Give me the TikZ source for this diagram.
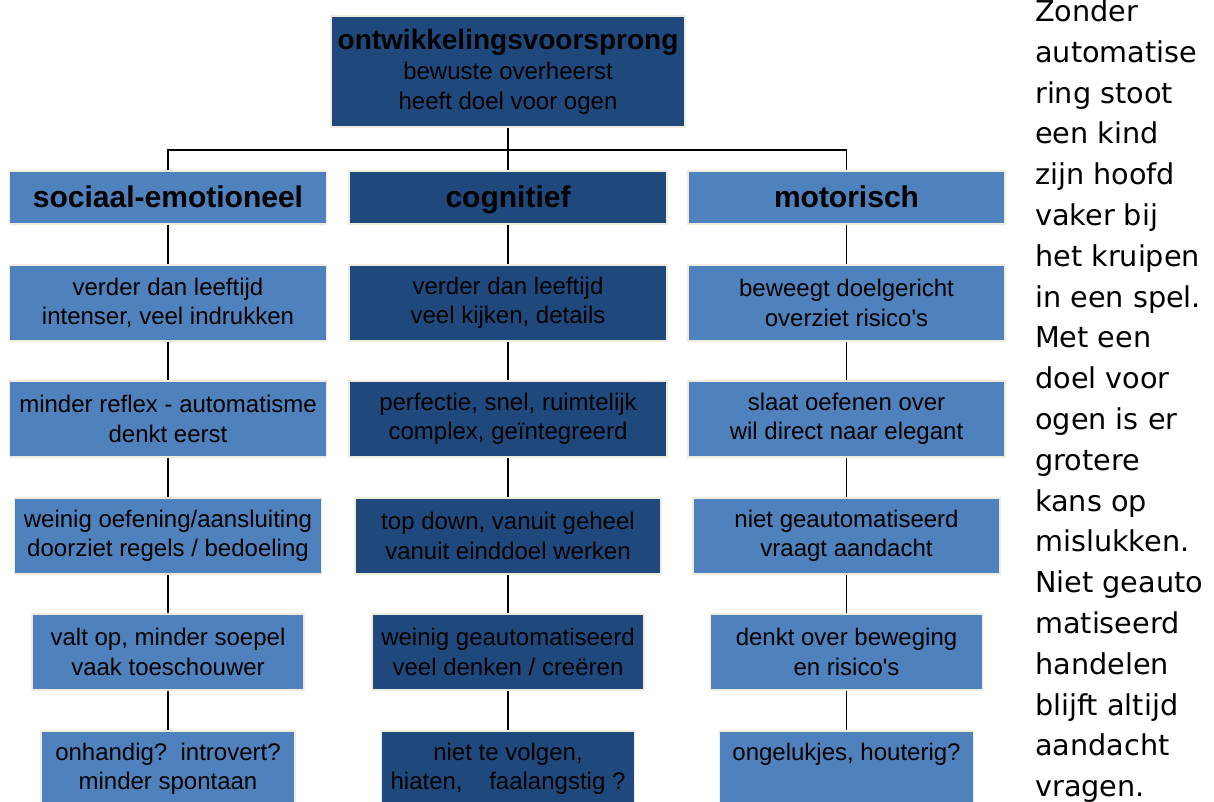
\documentclass[tikz,border=0pt]{standalone}
\usepackage{fontspec}
\setmainfont{Liberation Sans}
\newfontfamily\verd{DejaVu Sans}
\definecolor{lightblue}{HTML}{4F81BD}
\definecolor{darkblue}{HTML}{1F497D}
\definecolor{edgecol}{HTML}{EEECE1}
\begin{document}
\begin{tikzpicture}[x=1pt,y=-1pt,
  box/.style={draw=edgecol, line width=1.5pt, rectangle, inner sep=0pt, align=center,
    font=\fontsize{24}{29.5}\selectfont, text=black},
  lightbox/.style={box, fill=lightblue},
  darkbox/.style={box, fill=darkblue},
  headtext/.style={font=\fontsize{30}{34}\selectfont\bfseries, text height=21pt, text depth=0pt},
  connector/.style={draw=black, line width=1.2pt},
  sidetext/.style={anchor=north west, inner sep=0pt, align=left,
    font=\verd\fontsize{28.7}{40.8}\selectfont, text=black}]
\clip (0,0) rectangle (1214,802);
\fill[white] (0,0) rectangle (1214,802);

% top
\node[darkbox, minimum width=354pt, minimum height=111pt, font=\fontsize{24}{30}\selectfont] (top) at (508,71.5)
  {{\fontsize{28}{30}\selectfont\bfseries ontwikkelingsvoorsprong}\\ bewuste overheerst\\ heeft doel voor ogen};

% row 1
\node[lightbox, headtext, minimum width=317pt, minimum height=53pt] (s1) at (168,197.5) {sociaal-emotioneel};
\node[darkbox, headtext, minimum width=318pt, minimum height=53pt] (c1) at (508,197.5) {cognitief};
\node[lightbox, headtext, minimum width=317pt, minimum height=53pt] (m1) at (846.5,197.5) {motorisch};

% row 2
\node[lightbox, minimum width=317pt, minimum height=76pt] (s2) at (168,303) {verder dan leeftijd\\ intenser, veel indrukken};
\node[darkbox, minimum width=318pt, minimum height=76pt] (c2) at (508,303) {verder dan leeftijd\\ veel kijken, details};
\node[lightbox, minimum width=317pt, minimum height=76pt] (m2) at (846.5,303) {beweegt doelgericht\\ overziet risico\textquotesingle s};

% row 3
\node[lightbox, minimum width=317pt, minimum height=76pt] (s3) at (168,419) {minder reflex - automatisme\\ denkt eerst};
\node[darkbox, minimum width=318pt, minimum height=76pt] (c3) at (508,419) {perfectie, snel, ruimtelijk\\ complex, geïntegreerd};
\node[lightbox, minimum width=317pt, minimum height=76pt] (m3) at (846.5,419) {slaat oefenen over\\ wil direct naar elegant};

% row 4
\node[lightbox, minimum width=307pt, minimum height=76pt] (s4) at (168,536) {weinig oefening/aansluiting\\ doorziet regels / bedoeling};
\node[darkbox, minimum width=306pt, minimum height=76pt] (c4) at (508,536) {top down, vanuit geheel\\ vanuit einddoel werken};
\node[lightbox, minimum width=307pt, minimum height=76pt] (m4) at (846.5,536) {niet geautomatiseerd\\ vraagt aandacht};

% row 5
\node[lightbox, minimum width=272pt, minimum height=76pt] (s5) at (168,652) {valt op, minder soepel\\ vaak toeschouwer};
\node[darkbox, minimum width=272pt, minimum height=76pt] (c5) at (508,652) {weinig geautomatiseerd\\ veel denken / creëren};
\node[lightbox, minimum width=272pt, minimum height=76pt] (m5) at (846.5,652) {denkt over beweging\\ en risico\textquotesingle s};

% row 6
\node[lightbox, minimum width=254pt, minimum height=76pt] (s6) at (168,769) {onhandig?\ \ introvert?\\ minder spontaan};
\node[darkbox, minimum width=253pt, minimum height=76pt] (c6) at (508,769) {niet te volgen,\\ hiaten,\ \ \ \ faalangstig ?};
\node[lightbox, minimum width=254pt, minimum height=76pt] (m6) at (846.5,769) {\strut ongelukjes, houterig?\\ \strut};

% connectors
\coordinate (hub) at (508,150);
\draw[connector] (top.south) -- (c1.north);
\draw[connector] (s1.north) -- (s1.north |- hub) -- (m1.north |- hub) -- (m1.north);
\foreach \col in {s,c,m}{
  \foreach \i/\j in {1/2,2/3,3/4,4/5,5/6}{
    \draw[connector] (\col\i.south) -- (\col\j.north);
  }
}

% side text
\node[sidetext] (side) at (1035,-0.5) {Zonder\\automatise\\ring stoot\\een kind\\zijn hoofd\\vaker bij\\het kruipen\\in een spel.\\Met een\\doel voor\\ogen is er\\grotere\\kans op\\mislukken.\\Niet geauto\\matiseerd\\handelen\\blijft altijd\\aandacht\\vragen.};
\end{tikzpicture}
\end{document}
